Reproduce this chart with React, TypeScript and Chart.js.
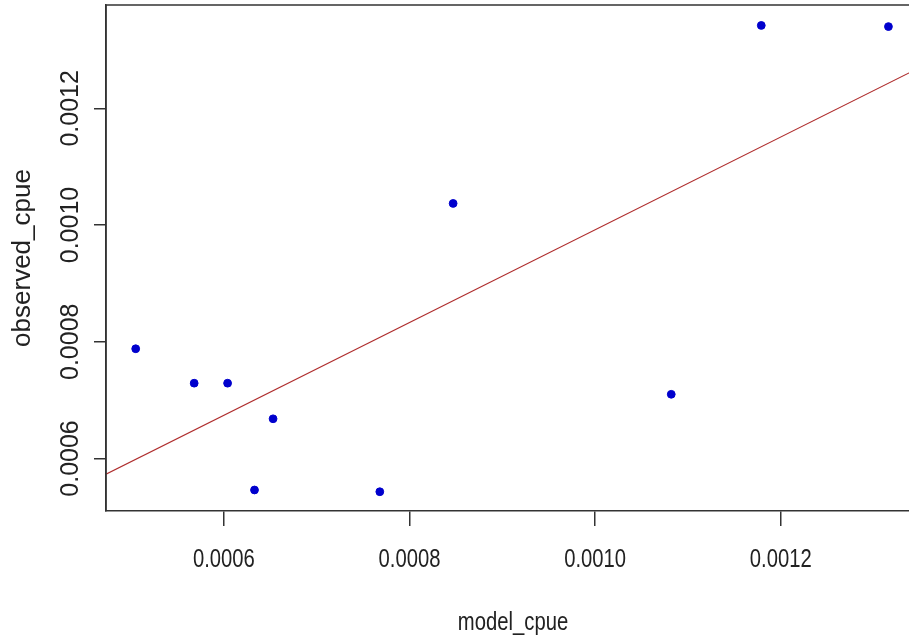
import React, { useEffect, useRef } from "react";
import { Chart, registerables } from "chart.js";

Chart.register(...registerables);

// ---- data ----
const modelCpue = [0.000505, 0.000568, 0.000604, 0.000653, 0.000633, 0.000768, 0.000847, 0.001082, 0.001179, 0.001316];
const observedCpue = [0.000788, 0.000729, 0.000729, 0.000668, 0.000546, 0.000543, 0.001037, 0.00071, 0.001342, 0.00134];
const fitX = [0.000473, 0.00135];
const fitY = [0.000573, 0.00127];
const xTicks = [0.0006, 0.0008, 0.001, 0.0012];
const yTicks = [0.0006, 0.0008, 0.001, 0.0012];
const xRange = [0.000473, 0.00135];
const yRange = [0.00051, 0.001377];
const xLabel = "model_cpue";
const yLabel = "observed_cpue";

const REGULAR = '"Liberation Sans", Arial, sans-serif';
const INK = "#222222";
const AXIS = "#333333";
const X_TEXT_SQUEEZE = 0.81;

const fmt = (v: number) => Number(v).toFixed(4);

const rBoxPlugin = {
  id: "rBox",
  afterDraw(chart: any) {
    const { ctx, chartArea: a, scales } = chart;
    ctx.save();
    ctx.strokeStyle = AXIS;
    ctx.lineWidth = 1.5;
    ctx.beginPath();
    ctx.moveTo(a.left, a.bottom);
    ctx.lineTo(a.left, a.top);
    ctx.lineTo(a.right, a.top);
    ctx.lineTo(a.right, a.bottom);
    ctx.stroke();

    ctx.fillStyle = INK;
    ctx.font = `25px ${REGULAR}`;
    ctx.textAlign = "center";
    ctx.textBaseline = "middle";

    // rotated y tick labels, as in base R graphics
    const ys = scales.y;
    ys.ticks.forEach((t: any) => {
      const py = ys.getPixelForValue(t.value);
      ctx.save();
      ctx.translate(a.left - 35, py);
      ctx.rotate(-Math.PI / 2);
      ctx.fillText(fmt(t.value), 0, 0);
      ctx.restore();
    });

    // x tick labels (narrow rendering as in the reference)
    const xs = scales.x;
    xs.ticks.forEach((t: any) => {
      const px = xs.getPixelForValue(t.value);
      ctx.save();
      ctx.translate(px, a.bottom + 49);
      ctx.scale(X_TEXT_SQUEEZE, 1);
      ctx.fillText(fmt(t.value), 0, 0);
      ctx.restore();
    });

    // x axis title
    ctx.save();
    ctx.translate((a.left + a.right) / 2, a.bottom + 112);
    ctx.scale(X_TEXT_SQUEEZE, 1);
    ctx.fillText(xLabel, 0, 0);
    ctx.restore();

    ctx.restore();
  },
};

function ScatterChart() {
  const ref = useRef<HTMLCanvasElement | null>(null);
  useEffect(() => {
    if (!ref.current) return;
    const chart = new Chart(ref.current, {
      type: "scatter",
      data: {
        datasets: [
          {
            label: "fit",
            data: fitX.map((x, i) => ({ x, y: fitY[i] })),
            showLine: true,
            borderColor: "#b03030",
            borderWidth: 1.2,
            pointRadius: 0,
            fill: false,
          },
          {
            label: "cpue",
            data: modelCpue.map((x, i) => ({ x, y: observedCpue[i] })),
            backgroundColor: "#0000cd",
            borderColor: "#0000cd",
            borderWidth: 1,
            pointRadius: 3.9,
          },
        ],
      },
      options: {
        responsive: false,
        animation: false,
        devicePixelRatio: 1,
        layout: { padding: { left: 0, top: 5, right: 10, bottom: 0 } },
        plugins: { legend: { display: false }, tooltip: { enabled: false } },
        scales: {
          x: {
            type: "linear",
            position: "bottom",
            min: xRange[0],
            max: xRange[1],
            afterBuildTicks: (s: any) => {
              s.ticks = xTicks.map((v) => ({ value: v }));
            },
            afterFit: (s: any) => {
              s.height = 130;
            },
            grid: { drawOnChartArea: false, drawTicks: true, tickLength: 15, color: AXIS, lineWidth: 1.5 },
            border: { display: true, color: AXIS, width: 1.5 },
            ticks: { display: false },
            title: { display: false },
          },
          y: {
            type: "linear",
            position: "left",
            min: yRange[0],
            max: yRange[1],
            afterBuildTicks: (s: any) => {
              s.ticks = yTicks.map((v) => ({ value: v }));
            },
            afterFit: (s: any) => {
              s.width = 106;
            },
            grid: { drawOnChartArea: false, drawTicks: true, tickLength: 12, color: AXIS, lineWidth: 1.5 },
            border: { display: true, color: AXIS, width: 1.5 },
            ticks: { display: false },
            title: {
              display: true,
              text: yLabel,
              color: INK,
              font: { family: REGULAR, size: 26 },
              padding: { top: 7, bottom: 0 },
            },
          },
        },
      },
      plugins: [rBoxPlugin],
    } as any);
    return () => chart.destroy();
  }, []);
  return <canvas ref={ref} width={930} height={641} style={{ display: "block" }} />;
}

export default function App() {
  return (
    <div
      style={{
        position: "absolute",
        left: 0,
        top: 0,
        width: 909,
        height: 641,
        overflow: "hidden",
        background: "#ffffff",
      }}
    >
      <ScatterChart />
    </div>
  );
}
